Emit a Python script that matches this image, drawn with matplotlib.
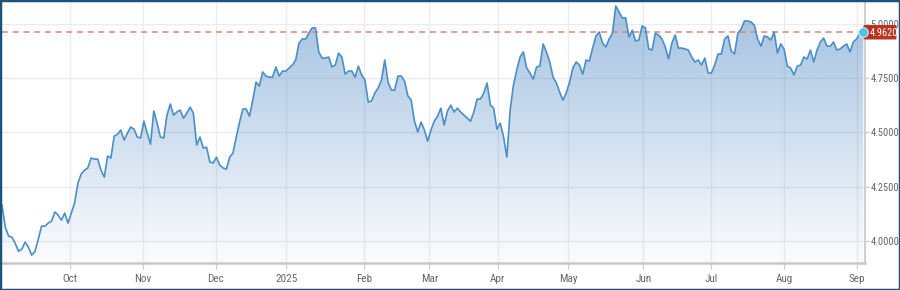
import numpy as np
import pandas as pd
import matplotlib
matplotlib.use("Agg")
import matplotlib.pyplot as plt
import matplotlib.dates as mdates
from matplotlib import font_manager
from matplotlib.patches import Rectangle, Polygon
from matplotlib.transforms import IdentityTransform

# daily closes (Sep 2024 -> Sep 2025)
values = [
    4.165, 4.063, 4.022, 4.017, 3.989, 3.952, 3.962, 3.994, 3.971, 3.934,
    3.952, 4.008, 4.068, 4.068, 4.082, 4.091, 4.133, 4.119, 4.096, 4.128,
    4.082, 4.128, 4.174, 4.266, 4.308, 4.326, 4.336, 4.382, 4.377, 4.377,
    4.326, 4.294, 4.391,
    4.382, 4.483, 4.492, 4.511, 4.465, 4.497, 4.525, 4.515, 4.479, 4.474,
    4.552, 4.497, 4.446, 4.599, 4.543, 4.479, 4.474, 4.580, 4.631, 4.580,
    4.594, 4.603, 4.566, 4.589, 4.617, 4.589, 4.442, 4.479, 4.428, 4.432,
    4.363, 4.359,
    4.386, 4.349, 4.336, 4.331, 4.386, 4.405, 4.479, 4.548, 4.608, 4.608,
    4.575, 4.649, 4.732, 4.714, 4.779, 4.760, 4.755, 4.755, 4.802, 4.760,
    4.783, 4.783, 4.797, 4.811, 4.834, 4.912, 4.931, 4.931, 4.958, 4.982,
    4.982,
    4.871, 4.843, 4.843, 4.848, 4.802, 4.811, 4.866, 4.848, 4.769, 4.783,
    4.783, 4.755, 4.806, 4.765, 4.742, 4.640, 4.645, 4.682, 4.705, 4.742,
    4.834, 4.732, 4.695, 4.695, 4.760, 4.760, 4.737, 4.668, 4.649, 4.552,
    4.502, 4.548, 4.511, 4.460, 4.511, 4.552, 4.575, 4.612, 4.534, 4.599,
    4.626, 4.594, 4.612, 4.594, 4.580, 4.566, 4.552, 4.594, 4.654, 4.654,
    4.682, 4.728, 4.626, 4.612, 4.515, 4.543, 4.479, 4.386, 4.603, 4.719,
    4.788, 4.848, 4.871, 4.797, 4.774, 4.746, 4.802, 4.806, 4.908, 4.871,
    4.825, 4.755, 4.728, 4.686, 4.649, 4.682, 4.732, 4.797, 4.825, 4.811,
    4.769, 4.834, 4.829, 4.889, 4.945, 4.963,
    4.912, 4.894, 4.931, 4.958, 5.083, 5.055, 5.028, 5.028, 4.940, 4.972,
    4.922, 4.926, 4.991, 4.982, 4.885, 4.880, 4.958, 4.949, 4.931, 4.894,
    4.839, 4.912, 4.949, 4.889, 4.889, 4.885, 4.880, 4.848, 4.825, 4.834,
    4.811, 4.843, 4.774, 4.774, 4.811, 4.862, 4.862, 4.931, 4.945, 4.875,
    4.862, 4.958, 4.977, 5.014, 5.014, 5.009, 4.995, 4.931, 4.898, 4.945,
    4.940, 4.926, 4.963, 4.866, 4.908, 4.885, 4.806, 4.797, 4.765, 4.806,
    4.811, 4.848, 4.839, 4.880, 4.825, 4.880, 4.917, 4.935, 4.898, 4.898,
    4.917, 4.880, 4.885, 4.898, 4.908, 4.871, 4.917, 4.931, 4.958, 4.962,
]
first_day = "2024-09-02"
last_day = "2025-09-03 16:00"
last_value = 4.962

month_labels = ["Oct", "Nov", "Dec", "2025", "Feb", "Mar", "Apr",
                "May", "Jun", "Jul", "Aug", "Sep"]
y_ticks = [4.0, 4.25, 4.5, 4.75, 5.0]

dates = pd.to_datetime(np.linspace(pd.Timestamp(first_day).value,
                                   pd.Timestamp(last_day).value, len(values)))
month_ticks = pd.date_range("2024-10-01", "2025-09-01", freq="BMS")

# a narrow face if one is installed, otherwise plain Liberation Sans a bit smaller
names = {f.name for f in font_manager.fontManager.ttflist}
narrow = [n for n in ["Liberation Sans Narrow", "Roboto Condensed", "Open Sans Condensed"]
          if n in names]
if narrow:
    plt.rcParams["font.family"] = [narrow[0], "DejaVu Sans"]
    y_size, x_size = 7.5, 8
else:
    plt.rcParams["font.family"] = ["Liberation Sans", "DejaVu Sans"]
    y_size, x_size = 6.5, 7.5

line_color = "#4a8fc8"
grid_color = "#ececec"
text_color = "#666666"
tag_color = "#b8321f"

fig = plt.figure(figsize=(9, 2.9), dpi=100)
ax = fig.add_axes([2 / 900, 27 / 290, 863 / 900, 261 / 290])

y_lo, y_hi = 3.898, 5.1015
x_lo = pd.Timestamp("2024-09-02")
x_hi = pd.Timestamp("2025-09-04 10:00")

# gradient area under the line
poly = ax.fill_between(dates, values, y_lo, color="none", lw=0)
n = 256
alpha = np.linspace(0.02, 0.48, n)
grad = np.zeros((n, 1, 4))
grad[:, 0, 0] = 63 / 255
grad[:, 0, 1] = 127 / 255
grad[:, 0, 2] = 191 / 255
grad[:, 0, 3] = alpha
img = ax.imshow(grad, extent=[mdates.date2num(x_lo), mdates.date2num(x_hi), y_lo, max(values)],
                origin="lower", aspect="auto", zorder=1, interpolation="bilinear")
img.set_clip_path(poly.get_paths()[0], transform=ax.transData)

ax.plot(dates, values, color=line_color, lw=1.2, zorder=3)
ax.axhline(last_value, color="#e8826e", lw=1.1, ls=(0, (4, 3)), zorder=2)
ax.plot(dates[-1], values[-1], "o", ms=7, color="#4fc3f0", mec="white", mew=0.6,
        zorder=7, clip_on=False)

ax.set_xlim(x_lo, x_hi)
ax.set_ylim(y_lo, y_hi)

# price tag: pointed on the left, anchored at the last point (shape in points)
anchor = (mdates.date2num(dates[-1]), last_value)
shape = np.array([[-2.5, 0], [1, 4.8], [23.5, 4.8], [23.5, -4.8], [1, -4.8]])
tag_pts = ax.transData.transform(anchor) + shape * fig.dpi / 72
tag = Polygon(tag_pts, closed=True, transform=IdentityTransform(), fc=tag_color,
              ec=tag_color, lw=0.8, joinstyle="round", zorder=6, clip_on=False)
ax.add_patch(tag)
ax.annotate(f"{last_value:.4f}", xy=anchor, xytext=(4.3, -0.2),
            textcoords="offset points", ha="left", va="center", color="white",
            fontsize=y_size, zorder=8, annotation_clip=False)

ax.set_xticks(month_ticks)
ax.set_xticklabels(month_labels)
ax.yaxis.tick_right()
ax.set_yticks(y_ticks)
ax.set_yticklabels([f"{v:.4f}" for v in y_ticks])

ax.grid(True, color=grid_color, lw=1)
ax.set_axisbelow(True)
ax.tick_params(axis="x", length=4, color="#c8c8c8", labelsize=x_size, labelcolor=text_color, pad=4)
ax.tick_params(axis="y", length=3, color="#c8c8c8", labelsize=y_size, labelcolor=text_color, pad=1)

for side in ["left", "top"]:
    ax.spines[side].set_visible(False)
ax.spines["bottom"].set_color("#c8c8c8")
ax.spines["bottom"].set_linewidth(1.8)
ax.spines["right"].set_color("#c8c8c8")
ax.spines["right"].set_linewidth(1.2)

# dark frame around the whole picture
fig.patches.append(Rectangle((0, 0), 1, 1, transform=fig.transFigure, fill=False,
                             ec="#1d5279", lw=2.5, zorder=10))

plt.savefig("out.png", dpi=100)
plt.close()
